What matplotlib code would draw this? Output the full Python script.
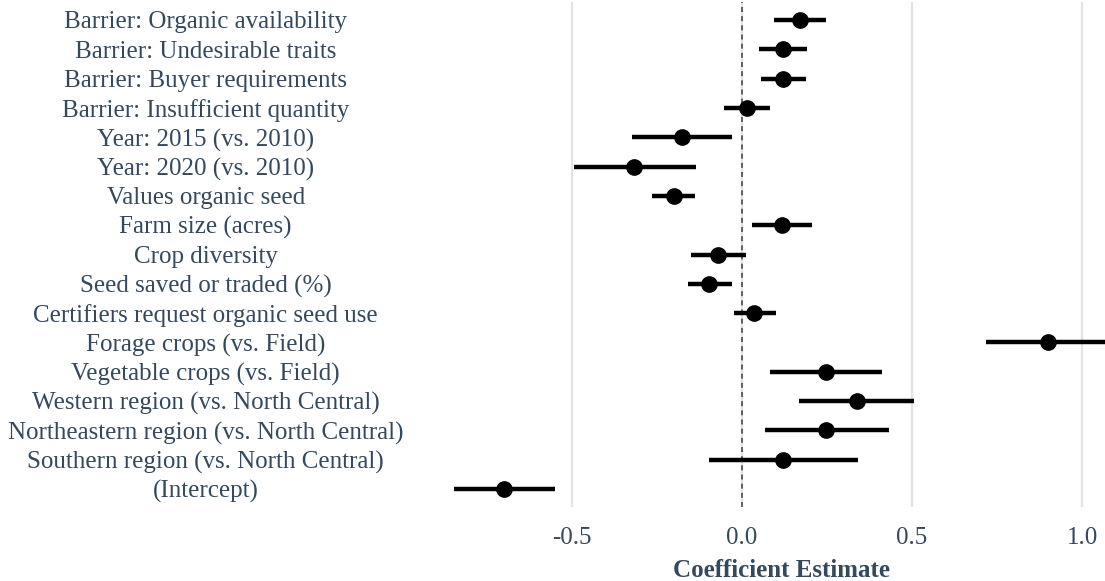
import numpy as np
import matplotlib.pyplot as plt

plt.rcParams['font.family'] = ['Liberation Serif', 'DejaVu Serif']
plt.rcParams['axes.unicode_minus'] = False

# Terms, top to bottom as drawn
terms = [
    "Barrier: Organic availability",
    "Barrier: Undesirable traits",
    "Barrier: Buyer requirements",
    "Barrier: Insufficient quantity",
    "Year: 2015 (vs. 2010)",
    "Year: 2020 (vs. 2010)",
    "Values organic seed",
    "Farm size (acres)",
    "Crop diversity",
    "Seed saved or traded (%)",
    "Certifiers request organic seed use",
    "Forage crops (vs. Field)",
    "Vegetable crops (vs. Field)",
    "Western region (vs. North Central)",
    "Northeastern region (vs. North Central)",
    "Southern region (vs. North Central)",
    "(Intercept)",
]
estimate = [0.171, 0.121, 0.121, 0.016, -0.175, -0.316, -0.199, 0.118, -0.070,
            -0.096, 0.037, 0.900, 0.248, 0.337, 0.248, 0.122, -0.698]
conf_low = [0.095, 0.050, 0.055, -0.051, -0.322, -0.493, -0.263, 0.030, -0.149,
            -0.158, -0.023, 0.718, 0.082, 0.169, 0.067, -0.097, -0.846]
conf_high = [0.246, 0.191, 0.188, 0.084, -0.028, -0.134, -0.137, 0.206, 0.012,
             -0.029, 0.100, 1.082, 0.413, 0.505, 0.431, 0.341, -0.550]

text_col = "#34495e"
W, H = 1105, 581

fig = plt.figure(figsize=(W / 100, H / 100), dpi=100)
# panel runs a bit past the right edge of the picture (cropped original)
ax = fig.add_axes([421 / W, (H - 506.6) / H, (1143 - 421) / W, 504.2 / H])

ypos = np.arange(len(terms), 0, -1)

for side in ax.spines.values():
    side.set_visible(False)
ax.set_axisbelow(True)
ax.grid(axis='x', color="#e3e3e3", linewidth=1.6)
ax.grid(axis='y', visible=False)
ax.axvline(0, color="#4a4a4a", linestyle=(0, (3, 2.5)), linewidth=1.2, zorder=1)

ax.hlines(ypos, conf_low, conf_high, color="black", linewidth=3.2, zorder=3)
ax.plot(estimate, ypos, 'o', color="black", markersize=11, zorder=4)

ax.set_xlim(-0.942, 1.178)
ax.set_ylim(0.4, len(terms) + 0.6)
ax.set_xticks([-0.5, 0.0, 0.5, 1.0])
ax.set_xticklabels(["-0.5", "0.0", "0.5", "1.0"])
ax.set_yticks(ypos)
ax.set_yticklabels(terms)
ax.tick_params(axis='both', length=0, labelsize=18, labelcolor=text_col)
ax.tick_params(axis='y', pad=155)
ax.tick_params(axis='x', pad=15)
for lab in ax.get_yticklabels():
    lab.set_horizontalalignment('center')

ax.set_xlabel("Coefficient Estimate", fontsize=18, fontweight='bold',
              color=text_col, labelpad=7)

plt.savefig("out.png", dpi=100)
